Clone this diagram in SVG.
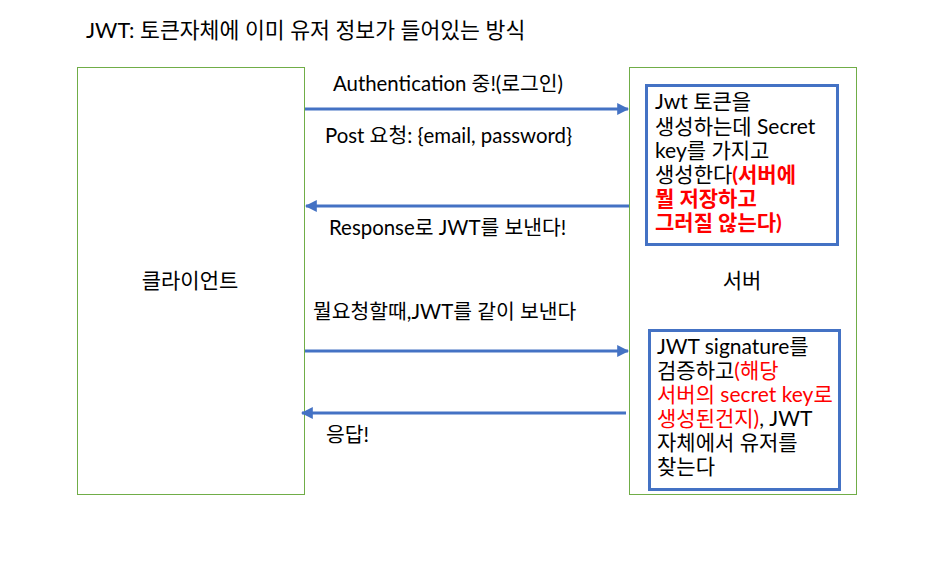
<svg xmlns="http://www.w3.org/2000/svg" width="925" height="565" viewBox="0 0 925 565">
<style>
text{font-family:Lato,"Noto Sans CJK KR",sans-serif;fill:#000;}
.title{font-size:21.6px;}
.t{font-size:20.4px;}
.b{font-size:21px;}
.n{font-size:21px;}
.red{fill:#FF0000;}
.bold{font-weight:bold;}
.lane{fill:#fff;stroke:#70AD47;stroke-width:1;}
.note{fill:#fff;stroke:#4472C4;stroke-width:3;}
.arr{stroke:#4472C4;stroke-width:3;fill:none;}
</style>
<defs>
<marker id="ah" viewBox="0 0 10 10" refX="9" refY="5" markerWidth="4" markerHeight="4" orient="auto-start-reverse" markerUnits="strokeWidth">
<path d="M0,0 L10,5 L0,10 z" fill="#4472C4"/>
</marker>
</defs>
<rect width="925" height="565" fill="#fff"/>
<text class="title" x="86" y="38">JWT: 토큰자체에 이미 유저 정보가 들어있는 방식</text>
<g id="client">
<rect class="lane" x="77.5" y="67.5" width="227" height="427"/>
<text class="b" x="190" y="288" text-anchor="middle">클라이언트</text>
</g>
<g id="server">
<rect class="lane" x="629.5" y="67.5" width="227" height="427"/>
<text class="b" x="742" y="288" text-anchor="middle">서버</text>
</g>
<g id="note1">
<rect class="note" x="646.5" y="85.5" width="191" height="159"/>
<text class="n" x="655" y="109">Jwt 토큰을</text>
<text class="n" x="655" y="134">생성하는데 Secret</text>
<text class="n" x="655" y="158">key를 가지고</text>
<text class="n" x="655" y="182">생성한다<tspan class="red bold">(서버에</tspan></text>
<text class="n red bold" x="655" y="206">뭘 저장하고</text>
<text class="n red bold" x="655" y="230">그러질 않는다)</text>
</g>
<g id="note2">
<rect class="note" x="649.5" y="330.5" width="190" height="159"/>
<text class="n" x="657" y="354">JWT signature를</text>
<text class="n" x="657" y="378">검증하고<tspan class="red">(해당</tspan></text>
<text class="n red" x="657" y="402">서버의 secret key로</text>
<text class="n" x="657" y="426"><tspan class="red">생성된건지)</tspan>, JWT</text>
<text class="n" x="657" y="450">자체에서 유저를</text>
<text class="n" x="657" y="474">찾는다</text>
</g>
<g id="connectors">
<line class="arr" x1="305" y1="109" x2="628" y2="109" marker-end="url(#ah)"/>
<line class="arr" x1="629" y1="206" x2="306" y2="206" marker-end="url(#ah)"/>
<line class="arr" x1="305" y1="351" x2="628" y2="351" marker-end="url(#ah)"/>
<line class="arr" x1="626" y1="413" x2="302" y2="413" marker-end="url(#ah)"/>
<text class="t" x="333" y="91">Authentication 중!(로그인)</text>
<text class="t" x="325" y="143">Post 요청: {email, password}</text>
<text class="t" x="329" y="235">Response로 JWT를 보낸다!</text>
<text class="t" x="313" y="319">뭘요청할때,JWT를 같이 보낸다</text>
<text class="t" x="326" y="442">응답!</text>
</g>
</svg>
